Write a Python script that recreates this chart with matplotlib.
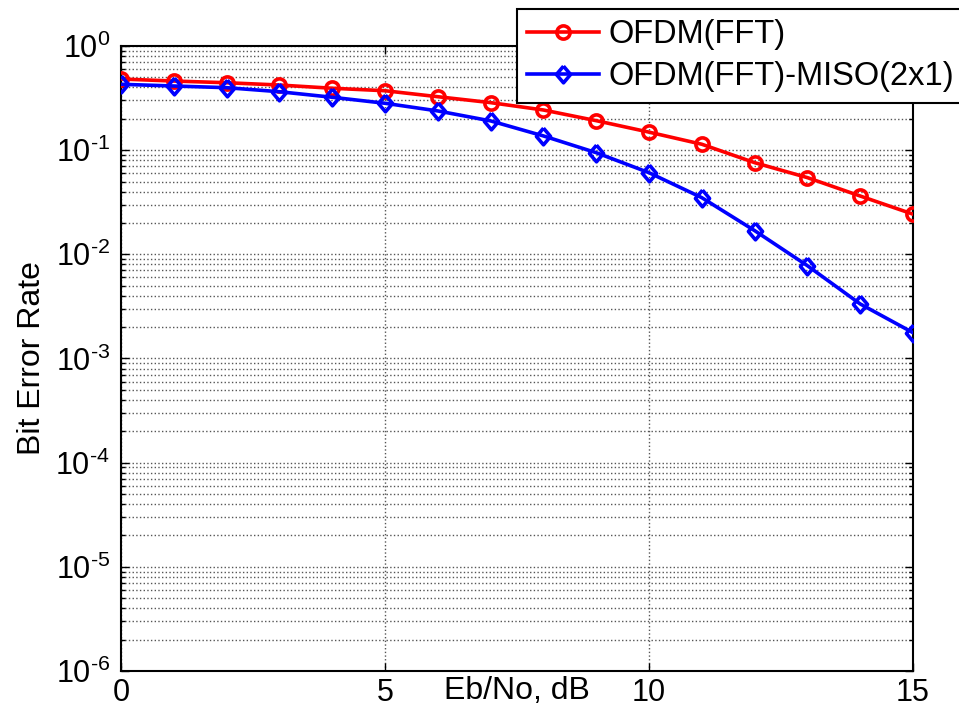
import math
import matplotlib
matplotlib.use("Agg")
import matplotlib.pyplot as plt
from matplotlib.ticker import FixedLocator, LogLocator, NullFormatter, FuncFormatter

plt.rcParams['font.family'] = ['Liberation Sans', 'DejaVu Sans']
plt.rcParams['mathtext.fontset'] = 'custom'
plt.rcParams['mathtext.rm'] = 'Liberation Sans'
plt.rcParams['mathtext.it'] = 'Liberation Sans'
plt.rcParams['mathtext.bf'] = 'Liberation Sans'
plt.rcParams['axes.unicode_minus'] = False

ebno = [0, 1, 2, 3, 4, 5, 6, 7, 8, 9, 10, 11, 12, 13, 14, 15]
ber_fft = [0.482, 0.461, 0.444, 0.422, 0.393, 0.372, 0.326, 0.286, 0.243,
           0.192, 0.149, 0.114, 0.0759, 0.0545, 0.0363, 0.0243]
ber_miso = [0.429, 0.413, 0.398, 0.364, 0.322, 0.282, 0.238, 0.191, 0.137,
            0.0946, 0.0608, 0.0350, 0.0169, 0.00778, 0.00334, 0.00177]
labels = ['OFDM(FFT)', 'OFDM(FFT)-MISO(2x1)']
xticks = [0, 5, 10, 15]

diamond = [(0, 1), (0.85, 0), (0, -1), (-0.85, 0), (0, 1)]

fig = plt.figure(figsize=(9.59, 7.10), dpi=100)
ax = fig.add_axes([121/959, 1 - 671/710, (913-121)/959, (671-46)/710])

ax.semilogy(ebno, ber_fft, '-', marker='o', color='#ff0000', lw=2.6, ms=9.5,
            mew=2.6, mfc='none', label=labels[0], zorder=3)
ax.semilogy(ebno, ber_miso, '-', marker=diamond, color='#0000ff', lw=2.6,
            ms=12, mew=2.6, mfc='none', label=labels[1], zorder=3)

ax.set_xlim(0, 15)
ax.set_ylim(1e-6, 1)
ax.xaxis.set_major_locator(FixedLocator(xticks))
ax.yaxis.set_major_locator(LogLocator(base=10, numticks=20))
ax.yaxis.set_minor_locator(LogLocator(base=10, subs=range(2, 10), numticks=20))
ax.yaxis.set_minor_formatter(NullFormatter())

def fmt(v, pos):
    e = int(round(math.log10(v)))
    return r'$\mathregular{10^{\text{%d}}}$' % e
ax.yaxis.set_major_formatter(FuncFormatter(fmt))

ax.tick_params(which='both', direction='in', top=True, right=True,
               labelsize=22, width=1, color='black')
ax.tick_params(which='major', length=6)
ax.tick_params(axis='y', which='major', pad=8)
ax.tick_params(axis='x', which='major', pad=5)
ax.tick_params(which='minor', length=3)

ax.grid(True, which='major', axis='both', linestyle=':', color='#555555', lw=1)
ax.grid(True, which='minor', axis='y', linestyle=':', color='#555555', lw=1)

for s in ax.spines.values():
    s.set_linewidth(1.5)

ax.set_xlabel('Eb/No, dB', fontsize=23)
ax.xaxis.set_label_coords(0.5, -0.008)
ax.set_ylabel('Bit Error Rate', fontsize=23, labelpad=6)

leg = fig.legend(loc='upper right', bbox_to_anchor=(965/959, 1 - 9/710),
                 fontsize=23.5, frameon=True, fancybox=False, framealpha=1,
                 edgecolor='black', handlelength=2.2, borderpad=0.32,
                 labelspacing=0.33, handletextpad=0.3, borderaxespad=0)
leg.get_frame().set_linewidth(1.5)

fig.savefig('out.png', dpi=100)
